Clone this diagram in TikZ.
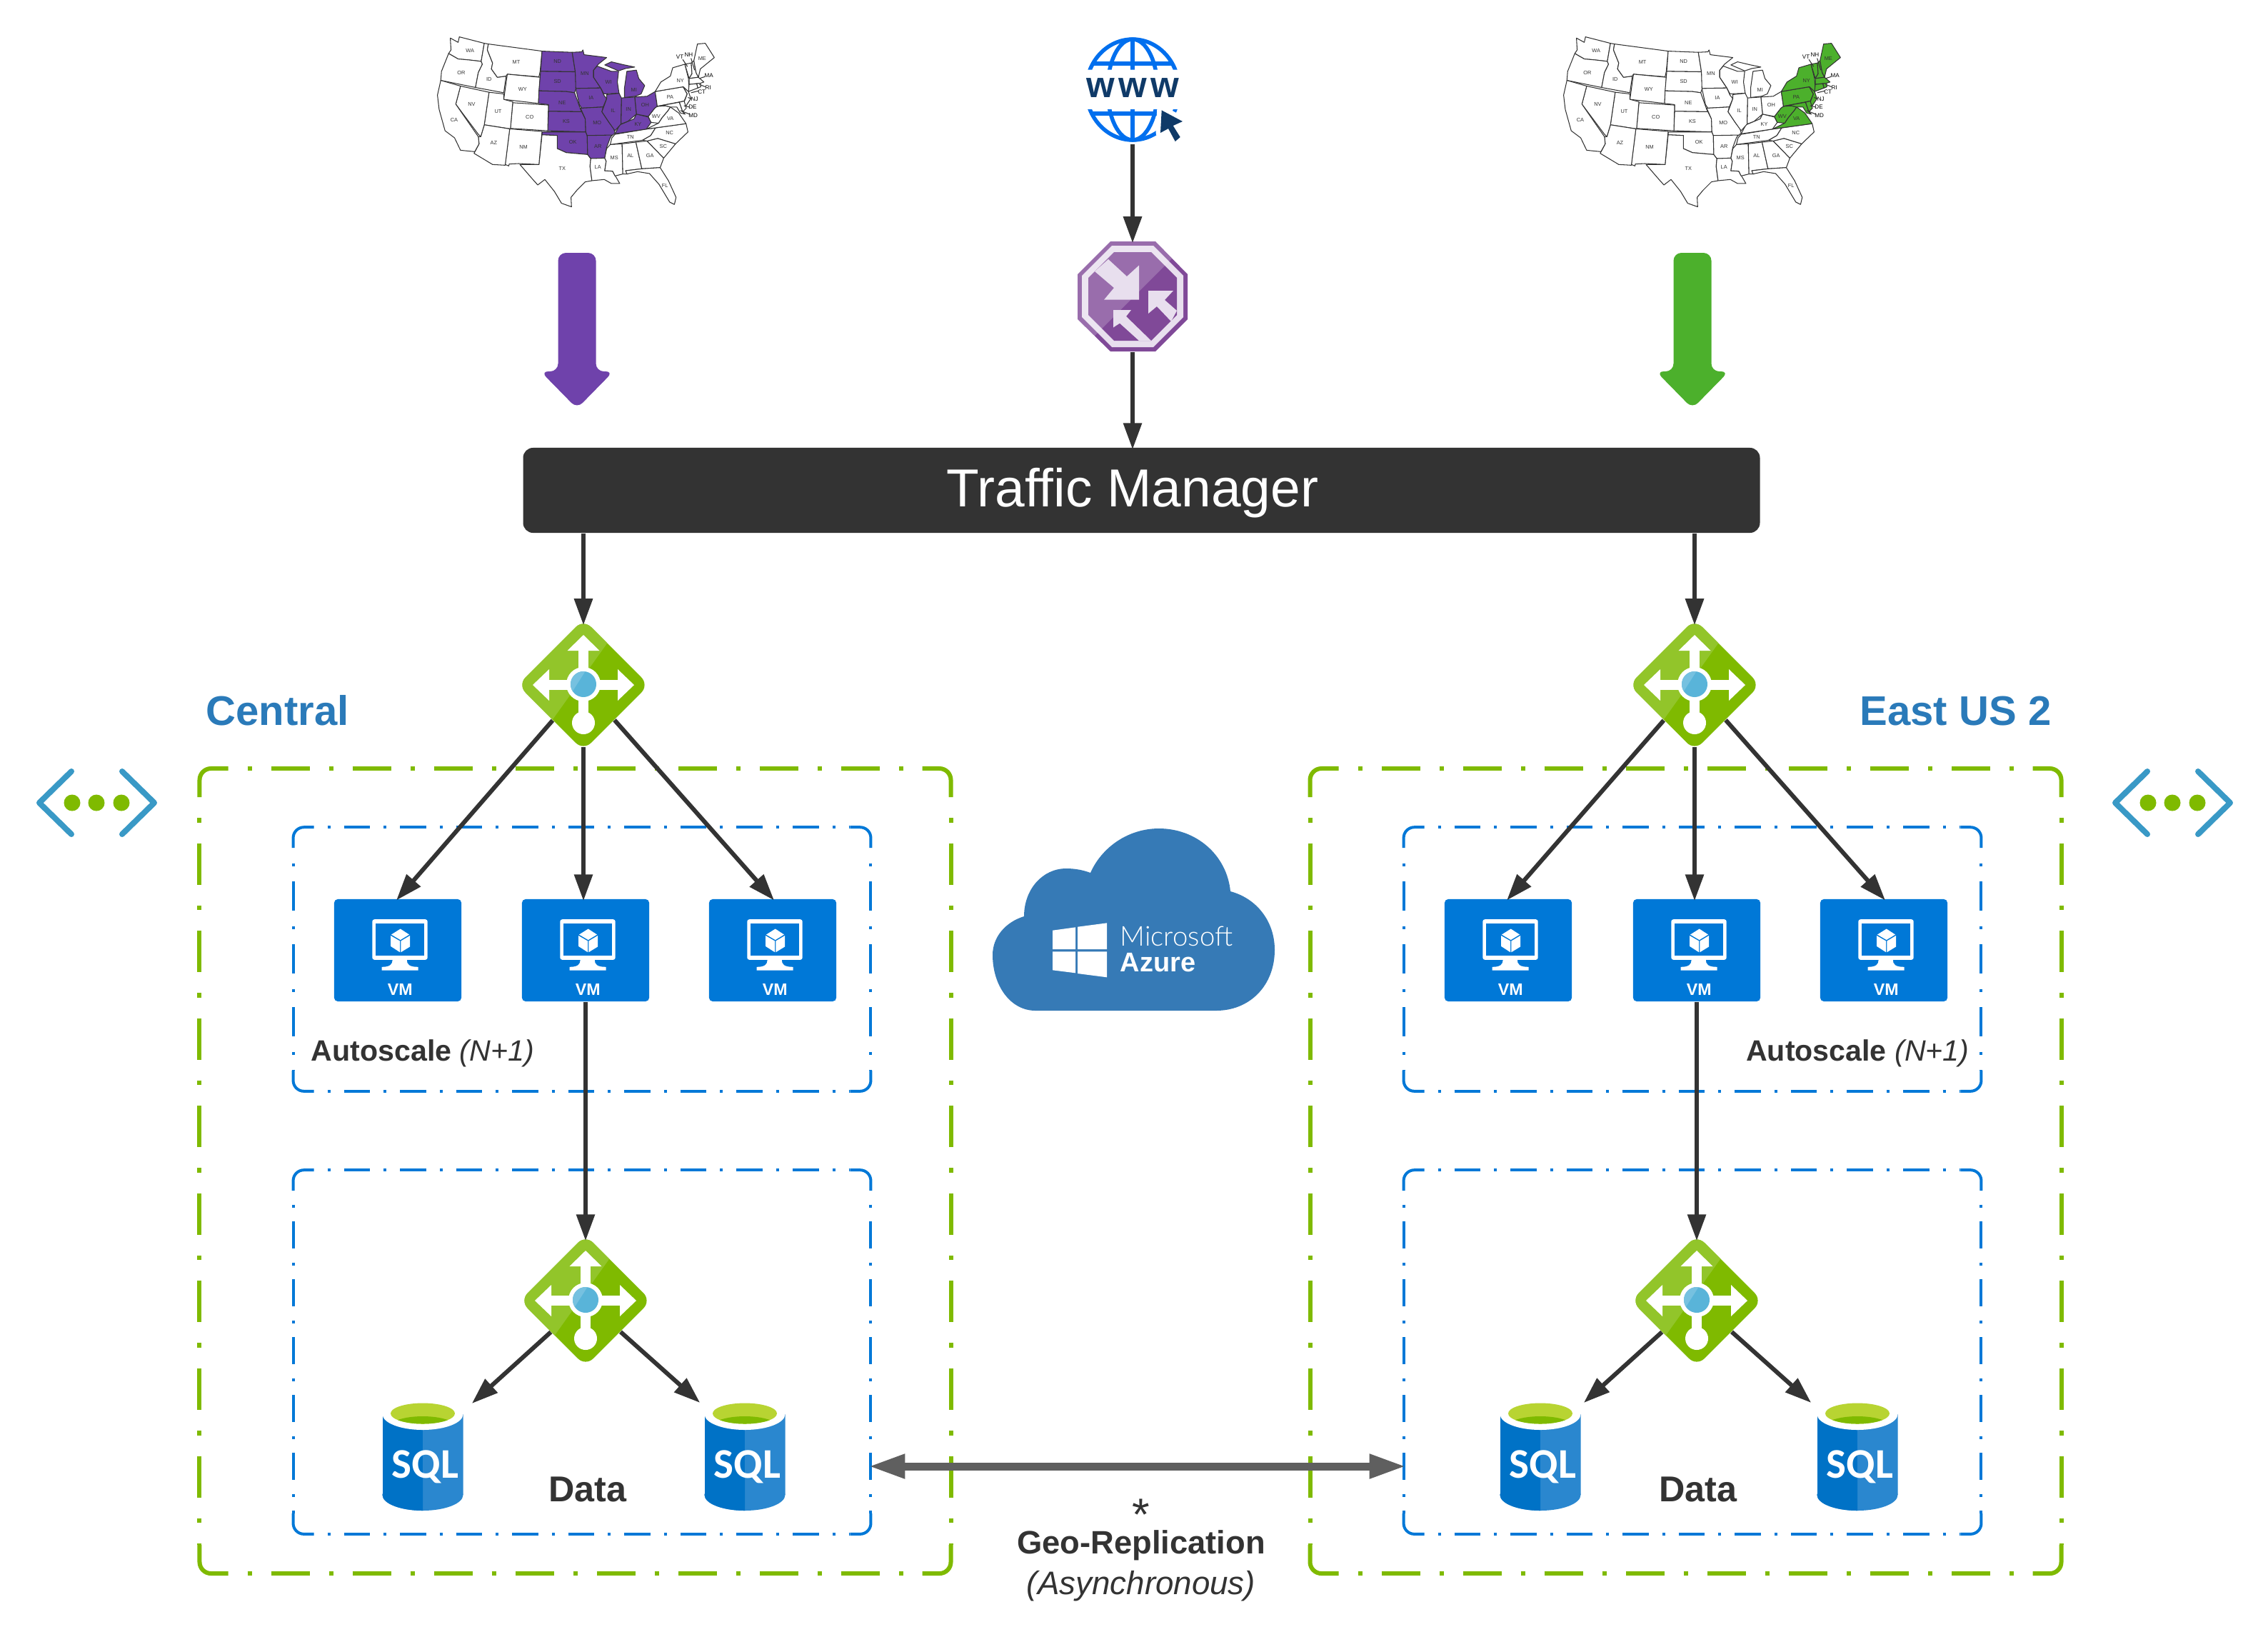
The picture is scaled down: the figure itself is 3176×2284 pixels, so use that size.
\documentclass[tikz,border=0pt]{standalone}
\usepackage{fontspec}
\setmainfont{Liberation Sans}
\newfontfamily\sqlfont{Carlito}
\newfontfamily\thinfont{Lato Light}
\usetikzlibrary{arrows.meta,shapes.geometric}

\definecolor{azgreen}{HTML}{7FBA00}
\definecolor{azlime}{HTML}{92C52A}
\definecolor{azblue}{HTML}{0078D7}
\definecolor{azsky}{HTML}{59B4D9}
\definecolor{azskylight}{HTML}{76C1E0}
\definecolor{aznet}{HTML}{3999C6}
\definecolor{azcloud}{HTML}{367AB6}
\definecolor{sqldark}{HTML}{0072C6}
\definecolor{sqllight}{HTML}{2A87CF}
\definecolor{sqllime}{HTML}{B8D432}
\definecolor{ink}{HTML}{333333}
\definecolor{regionblue}{HTML}{2A7AB9}
\definecolor{geogray}{HTML}{5F5F5F}
\definecolor{routerdark}{HTML}{804998}
\definecolor{routerpale}{HTML}{E8DFEE}
\definecolor{webblue}{HTML}{006FEE}
\definecolor{webnavy}{HTML}{0F3A68}
\definecolor{mappurple}{HTML}{6F42AB}
\definecolor{mapgreen}{HTML}{4CB02C}

\newcommand{\gwicon}{%
  \begin{scope}[shift={(path picture bounding box.center)},sharp corners]
    \fill[azlime] (63,-100) -- (-80,100) -- (-120,100) -- (-120,-100) -- cycle;
    \fill[white] (-7.3,-48) rectangle (7.3,55);
    \fill[white] (-48,-7) rectangle (48,7);
    \fill[white] (-22.5,-48) -- (0,-70) -- (22.5,-48) -- cycle;
    \fill[white] (-48,-22) -- (-71,0) -- (-48,22) -- cycle;
    \fill[white] (48,-22) -- (71,0) -- (48,22) -- cycle;
    \fill[white] (0,53) circle (16);
    \fill[white] (0,-1) circle (24);
    \fill[azsky] (0,-1) circle (18);
    \begin{scope}
      \clip (0,-1) circle (18);
      \fill[azskylight] (16,-40) -- (-30,32) -- (-30,-40) -- cycle;
    \end{scope}
  \end{scope}}
\newcommand{\routericon}{%
  \begin{scope}[shift={(path picture bounding box.center)}]
    \fill[routerdark] (-31,-77) -- (32,-77) -- (77,-31) -- (77,32) -- (32,77) -- (-31,77) -- (-77,32) -- (-77,-31) -- cycle;
    \fill[routerpale] (-29,-71) -- (29,-71) -- (71,-29) -- (71,29) -- (29,71) -- (-29,71) -- (-71,29) -- (-71,-29) -- cycle;
    \fill[routerdark] (-26,-62) -- (26,-62) -- (62,-26) -- (62,26) -- (26,62) -- (-26,62) -- (-62,26) -- (-62,-26) -- cycle;
    \fill[white,opacity=.2] (90,-88) -- (-86,88) -- (-90,-90) -- cycle;
    \fill[routerpale] (-34,-52) -- (-8,-28) -- (9,-43.5) -- (9,4.7) -- (-40,4.7) -- (-26,-12) -- (-53,-35) -- cycle;
    \fill[routerpale] (-27,19) -- (-2,19) -- (-9,28) -- (26,62) -- (9,62) -- (-18,37.6) -- (-27,43.5) -- cycle;
    \fill[routerpale] (22,-8) -- (57,-8) -- (45,5) -- (62,20) -- (54,35) -- (34,14) -- (22,24) -- cycle;
  \end{scope}}
\newcommand{\vmicon}{%
  \begin{scope}[shift={(path picture bounding box.center)},sharp corners]
    \fill[white,rounded corners=.03cm] (-35.7,-43.3) rectangle (41.7,13.3);
    \fill[azblue] (-30.7,-38) rectangle (37,7.7);
    \fill[white] (-7.3,13) -- (12.7,13) .. controls (12.7,20) and (16,23.3) .. (28.7,23.3) -- (28.7,28) -- (-22.3,28) -- (-22.3,23.3) .. controls (-11,23.3) and (-7.3,20) .. (-7.3,13) -- cycle;
    \fill[white] (3.7,-30) -- (16,-22) -- (3.7,-14.5) -- (-9,-22) -- cycle;
    \fill[white] (-10,-20.5) -- (3,-13) -- (3,2.7) -- (-10,-5.7) -- cycle;
    \fill[white] (4.4,-13) -- (17,-20.5) -- (17,-5) -- (4.4,2.7) -- cycle;
    \node[vmtext] (vmlabel) at (3.3,62.7) {VM};
  \end{scope}}
\newcommand{\sqlicon}{%
  \begin{scope}[shift={(path picture bounding box.center)}]
    \fill[sqllight] (-56.5,-56) rectangle (56.5,57);
    \fill[sqllight] (0,57) ellipse [x radius=56.5,y radius=22];
    \begin{scope}
      \clip (-60,-100) rectangle (0,100);
      \fill[sqldark] (-56.5,-56) rectangle (0,57);
      \fill[sqldark] (0,57) ellipse [x radius=56.5,y radius=22];
    \end{scope}
    \fill[white] (0,-56) ellipse [x radius=56.5,y radius=22];
    \fill[sqllime] (0,-57) ellipse [x radius=45,y radius=14.5];
    \begin{scope}
      \clip (0,-57) ellipse [x radius=45,y radius=14.5];
      \fill[azgreen] (0,-39) ellipse [x radius=45,y radius=14];
    \end{scope}
    \node[sqltext] (sqllabel) at (3.5,33) {SQL};
  \end{scope}}
\newcommand{\neticon}{%
  \begin{scope}[shift={(path picture bounding box.center)}]
    \draw[aznet,line width=.08cm,line cap=round,line join=round] (-35,-44) -- (-80,0) -- (-35,44) (36,-44) -- (81,0) -- (36,44);
    \fill[azgreen] (-34,0) circle (11.5) (0,0) circle (11.5) (35,0) circle (11.5);
  \end{scope}}
\newcommand{\webicon}{%
  \begin{scope}[shift={(path picture bounding box.center)}]
    \begin{scope}[yshift=.025cm]
      \clip (-80,-90) rectangle (80,-28) (-80,27.5) rectangle (80,90);
      \draw[webblue,line width=.055cm] (0,0) ellipse [x radius=65,y radius=70.5];
      \draw[webblue,line width=.055cm] (0,0) ellipse [x radius=35,y radius=70.5];
      \draw[webblue,line width=.055cm] (0,-70) -- (0,70) (-55,-36.6) -- (55,-36.6) (-57,33.4) -- (57,33.4);
    \end{scope}
    \node[webtext] (weblabel) at (0,11) {w\kern1.5pt w\kern1.5pt w};
    \draw[white,fill=white,line width=.13cm,line join=round] (40.7,28.9) -- (70,44.5) -- (56.7,50.5) -- (66.7,66.5) -- (59.7,72.5) -- (50,54.5) -- (39,60.5) -- cycle;
    \fill[webnavy] (40.7,28.9) -- (70,44.5) -- (56.7,50.5) -- (66.7,66.5) -- (59.7,72.5) -- (50,54.5) -- (39,60.5) -- cycle;
  \end{scope}}

\newcommand{\regionarrow}[2]{%
  \fill[#2,rounded corners=.11cm] (#1-26.5,354) -- (#1+26.5,354) -- (#1+26.5,520) -- (#1+51,520) -- (#1,572) -- (#1-51,520) -- (#1-26.5,520) -- cycle;}
\newcommand{\dashframe}[6]{% node, corner length, radius, frame, horizontal, vertical
  \draw[#4,#5] ([xshift=#2]#1.north west) -- ([xshift=-#2]#1.north east);
  \draw[#4,#5] ([xshift=#2]#1.south west) -- ([xshift=-#2]#1.south east);
  \draw[#4,#6] ([yshift=-#2]#1.north west) -- ([yshift=#2]#1.south west);
  \draw[#4,#6] ([yshift=-#2]#1.north east) -- ([yshift=#2]#1.south east);
  \draw[#4,rounded corners=#3] ([yshift=-#2]#1.north west) -- (#1.north west) -- ([xshift=#2]#1.north west);
  \draw[#4,rounded corners=#3] ([xshift=-#2]#1.north east) -- (#1.north east) -- ([yshift=-#2]#1.north east);
  \draw[#4,rounded corners=#3] ([yshift=#2]#1.south west) -- (#1.south west) -- ([xshift=#2]#1.south west);
  \draw[#4,rounded corners=#3] ([xshift=-#2]#1.south east) -- (#1.south east) -- ([yshift=#2]#1.south east);}

\makeatletter
\newcommand{\usstate}[2]{%
  \edef\statetest{\noexpand\in@{,#1,}{\maphl}}\statetest
  \ifin@\def\statefill{\mapcolor}\else\def\statefill{white}\fi
  \draw[mapline,fill=\statefill] #2 -- cycle;}
\makeatother
\newcommand{\usmap}{%
  \usstate{WA}{(212,100) -- (245,118) -- (250,95) -- (355,122) -- (342,198) -- (290,192) -- (245,188) -- (205,165) -- (215,150)}
  \usstate{OR}{(205,165) -- (245,188) -- (290,192) -- (342,198) -- (347,210) -- (330,245) -- (318,308) -- (172,278) -- (175,240)}
  \usstate{ID}{(355,122) -- (372,125) -- (368,150) -- (390,205) -- (385,230) -- (410,265) -- (447,260) -- (437,330) -- (318,308) -- (330,245) -- (347,210) -- (342,198)}
  \usstate{MT}{(372,125) -- (598,155) -- (590,240) -- (585,263) -- (452,252) -- (447,260) -- (410,265) -- (385,230) -- (390,205) -- (368,150)}
  \usstate{WY}{(452,252) -- (590,265) -- (583,375) -- (437,358)}
  \usstate{ND}{(598,155) -- (725,160) -- (738,242) -- (592,240)}
  \usstate{SD}{(592,240) -- (738,242) -- (742,310) -- (735,330) -- (700,325) -- (585,322)}
  \usstate{NE}{(585,322) -- (700,325) -- (735,330) -- (760,400) -- (765,410) -- (625,408) -- (625,380) -- (583,375)}
  \usstate{KS}{(625,408) -- (765,410) -- (780,440) -- (782,495) -- (622,490)}
  \usstate{OK}{(598,495) -- (782,495) -- (788,510) -- (790,590) -- (700,582) -- (662,565) -- (662,510) -- (598,507)}
  \usstate{TX}{(598,507) -- (662,510) -- (662,565) -- (700,582) -- (790,590) -- (803,607) -- (800,640) -- (808,700) -- (780,705) -- (745,740) -- (720,770) -- (722,810) -- (680,795) -- (650,745) -- (610,695) -- (580,718) -- (555,690) -- (505,632) -- (585,632)}
  \usstate{NM}{(462,482) -- (598,493) -- (585,632) -- (500,628) -- (460,630) -- (458,638) -- (443,632)}
  \usstate{CO}{(475,372) -- (625,382) -- (622,490) -- (465,480)}
  \usstate{UT}{(375,328) -- (437,335) -- (437,358) -- (475,368) -- (465,482) -- (355,465)}
  \usstate{AZ}{(355,465) -- (462,482) -- (443,635) -- (390,632) -- (312,585) -- (333,545) -- (330,515) -- (340,515)}
  \usstate{NV}{(255,302) -- (375,328) -- (355,465) -- (340,515) -- (330,505) -- (235,378)}
  \usstate{CA}{(172,278) -- (255,302) -- (235,378) -- (330,515) -- (333,545) -- (315,578) -- (255,572) -- (230,520) -- (190,490) -- (165,400) -- (158,340)}
  \usstate{MN}{(725,160) -- (765,158) -- (770,150) -- (775,170) -- (870,182) -- (835,210) -- (815,235) -- (815,265) -- (845,310) -- (740,312) -- (738,242)}
  \usstate{IA}{(740,312) -- (845,310) -- (858,340) -- (870,355) -- (855,390) -- (765,395) -- (755,380)}
  \usstate{MO}{(760,395) -- (855,390) -- (850,410) -- (880,455) -- (900,480) -- (905,500) -- (890,512) -- (788,510) -- (782,495) -- (780,440)}
  \usstate{AR}{(788,510) -- (892,508) -- (885,520) -- (870,560) -- (862,605) -- (803,607) -- (790,590)}
  \usstate{LA}{(803,607) -- (862,605) -- (868,618) -- (862,658) -- (895,660) -- (925,712) -- (890,712) -- (860,695) -- (808,700) -- (800,640)}
  \usstate{MS}{(885,548) -- (935,545) -- (938,672) -- (905,680) -- (895,660) -- (862,658) -- (868,618) -- (862,605) -- (870,565)}
  \usstate{AL}{(935,545) -- (993,538) -- (1018,650) -- (950,658) -- (958,672) -- (938,672)}
  \usstate{GA}{(993,538) -- (1040,533) -- (1110,605) -- (1095,645) -- (1018,650)}
  \usstate{FL}{(950,658) -- (1018,650) -- (1095,645) -- (1130,700) -- (1162,770) -- (1155,800) -- (1135,790) -- (1108,745) -- (1090,715) -- (1050,670) -- (1000,662) -- (955,672)}
  \usstate{SC}{(1040,533) -- (1085,522) -- (1160,545) -- (1110,605)}
  \usstate{NC}{(1020,530) -- (1055,510) -- (1075,478) -- (1204,460) -- (1212,495) -- (1160,545) -- (1085,522) -- (1040,533)}
  \usstate{TN}{(905,505) -- (1037,483) -- (1075,478) -- (1055,510) -- (1020,530) -- (885,548) -- (892,520)}
  \usstate{KY}{(905,503) -- (925,465) -- (985,440) -- (995,420) -- (1045,432) -- (1057,455) -- (1037,483)}
  \usstate{VA}{(1037,483) -- (1088,458) -- (1103,435) -- (1128,405) -- (1138,390) -- (1173,415) -- (1204,460)}
  \usstate{WV}{(1045,430) -- (1072,395) -- (1083,387) -- (1118,385) -- (1138,390) -- (1128,405) -- (1103,435) -- (1088,458) -- (1057,455)}
  \usstate{OH}{(988,348) -- (1040,345) -- (1074,325) -- (1083,387) -- (1072,395) -- (1045,430) -- (995,420)}
  \usstate{IN}{(932,352) -- (988,348) -- (995,420) -- (960,450) -- (930,462)}
  \usstate{IL}{(870,338) -- (922,332) -- (932,352) -- (930,462) -- (905,490) -- (880,455) -- (850,410) -- (870,355)}
  \usstate{WI}{(815,235) -- (830,218) -- (890,240) -- (920,240) -- (915,285) -- (922,332) -- (858,335) -- (845,310) -- (815,265)}
  \usstate{MI}{(945,350) -- (990,345) -- (1015,335) -- (1030,300) -- (1005,270) -- (995,235) -- (955,240) -- (945,310)}
  \usstate{MI}{(862,213) -- (890,200) -- (940,212) -- (988,222) -- (950,228) -- (920,238)}
  \usstate{PA}{(1074,325) -- (1192,305) -- (1209,335) -- (1196,365) -- (1083,387)}
  \usstate{NY}{(1074,325) -- (1098,285) -- (1138,260) -- (1148,225) -- (1199,210) -- (1214,270) -- (1217,318) -- (1209,335) -- (1192,305)}
  \usstate{NJ}{(1192,305) -- (1214,325) -- (1224,355) -- (1204,385) -- (1192,380) -- (1209,335)}
  \usstate{VT}{(1199,210) -- (1226,205) -- (1229,250) -- (1217,270)}
  \usstate{NH}{(1226,205) -- (1237,195) -- (1246,245) -- (1256,265) -- (1217,270) -- (1229,250)}
  \usstate{ME}{(1237,195) -- (1252,125) -- (1285,122) -- (1323,182) -- (1264,230) -- (1256,265) -- (1246,245)}
  \usstate{MA}{(1217,270) -- (1256,265) -- (1279,285) -- (1264,290) -- (1217,295)}
  \usstate{CT}{(1217,295) -- (1249,292) -- (1254,310) -- (1214,325)}
  \usstate{RI}{(1249,292) -- (1264,290) -- (1266,305) -- (1254,310)}
  \usstate{MD}{(1083,387) -- (1176,370) -- (1190,410) -- (1200,420) -- (1180,415) -- (1165,390) -- (1138,390) -- (1118,385)}
  \usstate{DE}{(1176,370) -- (1196,365) -- (1205,395) -- (1190,410)}
  \foreach \s/\x/\y in {WA/295/153,OR/258/245,CA/228/445,ID/375/272,NV/302/378,MT/490/200,WY/516/314,UT/413/410,CO/546/432,AZ/395/541,NM/520/560,ND/663/198,SD/663/283,NE/683/371,KS/700/452,OK/728/538,TX/683/650,MN/778/250,IA/805/352,MO/830/458,AR/833/556,LA/833/642,WI/878/285,IL/897/405,MS/902/605,AL/970/596,MI/985/317,IN/962/398,OH/1032/382,KY/1002/464,TN/970/518,GA/1052/596,FL/1115/722,SC/1108/555,NC/1135/500,VA/1138/438,WV/1078/430,PA/1137/347,NY/1180/278,ME/1272/187}
    \node[maplabel] (lbl\s) at (\x,\y) {\s};
  \foreach \s/\x/\y in {VT/1178/178,NH/1215/170,MA/1300/257,RI/1297/310,CT/1270/327,NJ/1240/358,DE/1232/390,MD/1234/425}
    \node[mapside] (lbl\s) at (\x,\y) {\s};
  \draw[mapline] (1190,190) -- (1210,220) (1225,185) -- (1240,235) (1285,262) -- (1260,270) (1285,305) -- (1260,295) (1258,322) -- (1225,330) (1225,355) -- (1212,350) (1218,390) -- (1195,385) (1218,420) -- (1180,405);}

\begin{document}
\begin{tikzpicture}[x=.01cm,y=-.01cm,>={Triangle[length=.37cm,width=.25cm]},
        flow/.style={->,ink,line width=.06cm,shorten >=-.03cm},
        georep/.style={{Triangle[length=.51cm,width=.32cm]}-{Triangle[length=.51cm,width=.32cm]},geogray,line width=.11cm,shorten >=-.03cm,shorten <=-.03cm},
        greenframe/.style={azgreen,line width=.06cm},
        blueframe/.style={azblue,line width=.04cm},
        greenh/.style={dash pattern=on 0cm off .27cm on .06cm off .27cm on .54cm off 0cm},
        greenv/.style={dash pattern=on 0cm off .29cm on .065cm off .29cm on .58cm off 0cm},
        blueh/.style={dash pattern=on 0cm off .19cm on .04cm off .19cm on .365cm off 0cm},
        bluescalev/.style={dash pattern=on 0cm off .215cm on .04cm off .215cm on .41cm off 0cm},
        bluedatav/.style={dash pattern=on 0cm off .195cm on .04cm off .195cm on .38cm off 0cm},
        region/.style={rectangle,inner sep=0pt,minimum width=10.5cm,minimum height=11.25cm},
        scalebox/.style={rectangle,inner sep=0pt,minimum width=8.07cm,minimum height=3.68cm},
        databox/.style={rectangle,inner sep=0pt,minimum width=8.07cm,minimum height=5.08cm},
        gwnode/.style={diamond,aspect=1,minimum size=1.84cm,inner sep=0pt,rounded corners=.15cm,fill=azgreen,path picture={\gwicon}},
        routernode/.style={rectangle,minimum size=1.54cm,inner sep=0pt,path picture={\routericon}},
        webnode/.style={rectangle,minimum width=1.5cm,minimum height=1.51cm,inner sep=0pt,path picture={\webicon}},
        vmnode/.style={rectangle,minimum width=1.78cm,minimum height=1.43cm,inner sep=0pt,rounded corners=.05cm,fill=azblue,path picture={\vmicon}},
        sqlnode/.style={rectangle,minimum width=1.13cm,minimum height=1.58cm,inner sep=0pt,path picture={\sqlicon}},
        netnode/.style={rectangle,minimum width=1.8cm,minimum height=1.1cm,inner sep=0pt,path picture={\neticon}},
        barnode/.style={rectangle,minimum width=17.31cm,minimum height=1.19cm,inner sep=0pt,rounded corners=.14cm,fill=ink},
        bartext/.style={inner sep=0pt,text=white,font=\fontsize{21.3}{25}\selectfont},
        vmtext/.style={anchor=base,inner sep=0pt,text=white,font=\fontsize{6.6}{8}\selectfont\bfseries},
        sqltext/.style={anchor=base,inner sep=0pt,text=white,font=\fontsize{16.8}{20}\sqlfont\bfseries},
        webtext/.style={anchor=base,inner sep=0pt,text=webnavy,font=\fontsize{14.5}{17}\selectfont\bfseries},
        regiontext/.style={anchor=base,inner sep=0pt,text=regionblue,font=\fontsize{16.5}{20}\selectfont\bfseries},
        infotext/.style={anchor=base,inner sep=0pt,text=ink,font=\fontsize{14.3}{17}\selectfont},
        scaletext/.style={anchor=base,inner sep=0pt,text=ink,font=\fontsize{11.7}{14}\selectfont},
        maplabel/.style={inner sep=0pt,text=ink,font=\fontsize{2.1}{3}\selectfont},
        mapside/.style={inner sep=0pt,text=black,font=\fontsize{2.3}{3}\selectfont},
        mapline/.style={draw=ink,line width=.3pt,line join=round}]
        \useasboundingbox (0,0) rectangle (3176,2284);
        \fill[white] (0,0) rectangle (3176,2284);

        % the two maps
        \begin{scope}[shift={(560,20)},x=.01/3*1cm,y=-.01/3*1cm]
        \def\maphl{,ND,SD,NE,KS,OK,AR,MO,IA,MN,WI,IL,IN,MI,OH,KY,}\def\mapcolor{mappurple}
        \usmap
        \end{scope}
        \begin{scope}[shift={(2137,20)},x=.01/3*1cm,y=-.01/3*1cm]
        \def\maphl{,ME,NH,VT,MA,RI,CT,NY,PA,NJ,DE,MD,VA,WV,}\def\mapcolor{mapgreen}
        \usmap
        \end{scope}
        \regionarrow{808}{mappurple}
        \regionarrow{2370}{mapgreen}

        % frames
        \node[region] (regiona) at (805.5,1639.5) {};
        \node[region] (regionb) at (2360.5,1639.5) {};
        \node[scalebox] (scalea) at (815,1343) {};
        \node[scalebox] (scaleb) at (2370,1343) {};
        \node[databox] (dataa) at (815,1893) {};
        \node[databox] (datab) at (2370,1893) {};
        \dashframe{regiona}{.40cm}{.16cm}{greenframe}{greenh}{greenv}
        \dashframe{regionb}{.40cm}{.16cm}{greenframe}{greenh}{greenv}
        \dashframe{scalea}{.29cm}{.15cm}{blueframe}{blueh}{bluescalev}
        \dashframe{scaleb}{.29cm}{.15cm}{blueframe}{blueh}{bluescalev}
        \dashframe{dataa}{.29cm}{.15cm}{blueframe}{blueh}{bluedatav}
        \dashframe{datab}{.29cm}{.15cm}{blueframe}{blueh}{bluedatav}

        % cloud
        \fill[azcloud] (1450,1415) -- (1703,1415) .. controls (1750,1415) and (1785,1380) .. (1785,1330) .. controls (1785,1290) and (1760,1258) .. (1723,1248) .. controls (1718,1197) and (1675,1160) .. (1623,1160) .. controls (1580,1160) and (1543,1186) .. (1527,1222) .. controls (1516,1218) and (1505,1216) .. (1493,1216) .. controls (1460,1216) and (1434,1245) .. (1434,1283) .. controls (1408,1291) and (1390,1312) .. (1390,1337) .. controls (1390,1380) and (1415,1415) .. (1450,1415) -- cycle;
        \fill[white] (1474,1302.7) -- (1506,1298.3) -- (1506,1329) -- (1474,1329) -- cycle (1509,1297.7) -- (1550,1292.3) -- (1550,1329) -- (1509,1329) -- cycle (1474,1332.3) -- (1506,1332.3) -- (1506,1362.3) -- (1474,1358.3) -- cycle (1509,1332.3) -- (1550,1332.3) -- (1550,1368.3) -- (1509,1363) -- cycle;
        \node[anchor=base west,inner sep=0pt,text=white,font=\fontsize{10.9}{13}\thinfont] (cloudtop) at (1568,1324) {Microsoft};
        \node[anchor=base west,inner sep=0pt,text=white,font=\fontsize{10.8}{13}\selectfont\bfseries] (cloudbot) at (1568,1360) {Azure};

        % icons
        \node[webnode] (web) at (1586,125.5) {};
        \node[routernode] (router) at (1586,415) {};
        \node[barnode] (bar) at (1598.5,686.5) {};
        \node[bartext] (barlabel) at (1586,690.5) {Traffic Manager};
        \node[gwnode] (gwa) at (817,959) {};
        \node[gwnode] (gwb) at (2373,959) {};
        \node[vmnode] (vma1) at (557,1330.5) {};
        \node[vmnode] (vma2) at (820,1330.5) {};
        \node[vmnode] (vma3) at (1082,1330.5) {};
        \node[vmnode] (vmb1) at (2112,1330.5) {};
        \node[vmnode] (vmb2) at (2376,1330.5) {};
        \node[vmnode] (vmb3) at (2638,1330.5) {};
        \node[gwnode] (gwc) at (820,1821) {};
        \node[gwnode] (gwd) at (2376,1821) {};
        \node[sqlnode] (sqla1) at (592,2036) {};
        \node[sqlnode] (sqla2) at (1043,2036) {};
        \node[sqlnode] (sqlb1) at (2157,2036) {};
        \node[sqlnode] (sqlb2) at (2601,2036) {};
        \node[netnode] (neta) at (135,1124) {};
        \node[netnode] (netb) at (3042,1124) {};

        \coordinate (tipa1) at (663,1963);
        \coordinate (tipa2) at (978,1962);
        \coordinate (tipb1) at (2220,1962);
        \coordinate (tipb2) at (2534,1962);
        \coordinate (repa) at (dataa.east |- 0,2053);
        \coordinate (repb) at (datab.west |- 0,2053);

        \path[flow]
        (web.south) edge (router.north)
        (router.south) edge (router.south |- bar.north)
        (bar.south -| gwa) edge[shorten >=-.09cm] (gwa.north)
        (bar.south -| gwb) edge[shorten >=-.09cm] (gwb.north)
        (gwa) edge (vma1.north)
        (gwa.south) edge[shorten <=-.06cm] (vma2.north -| gwa)
        (gwa) edge (vma3.north)
        (gwb) edge (vmb1.north)
        (gwb.south) edge[shorten <=-.06cm] (vmb2.north -| gwb)
        (gwb) edge (vmb3.north)
        (vma2.south) edge[shorten >=-.09cm] (gwc.north)
        (vmb2.south) edge[shorten >=-.09cm] (gwd.north)
        (gwc) edge (tipa1)
        (gwc) edge (tipa2)
        (gwd) edge (tipb1)
        (gwd) edge (tipb2)
        ;
        \draw[georep] (repa) -- (repb);

        % labels
        \node[regiontext,anchor=base west] (centrallabel) at (288,1015) {Central};
        \node[regiontext,anchor=base east] (eastlabel) at (2873,1015) {East US 2};
        \node[scaletext,anchor=base west] (scalelabela) at (435,1485) {\textbf{Autoscale} \textit{(N+1)}};
        \node[scaletext,anchor=base east] (scalelabelb) at (2758,1485) {\textbf{Autoscale} \textit{(N+1)}};
        \node[infotext] (datalabela) at (823,2102) {\textbf{Data}};
        \node[infotext] (datalabelb) at (2378,2102) {\textbf{Data}};
        \node[infotext,align=center,font=\fontsize{12.9}{16.2}\selectfont] (replabel) at (1598,2232) {{\fontsize{18}{16.2}\selectfont *}\\[-6.8pt]\textbf{Geo-Replication}\\[0pt]{\fontsize{13}{16.2}\selectfont\textit{(Asynchronous)}}};
\end{tikzpicture}
\end{document}
